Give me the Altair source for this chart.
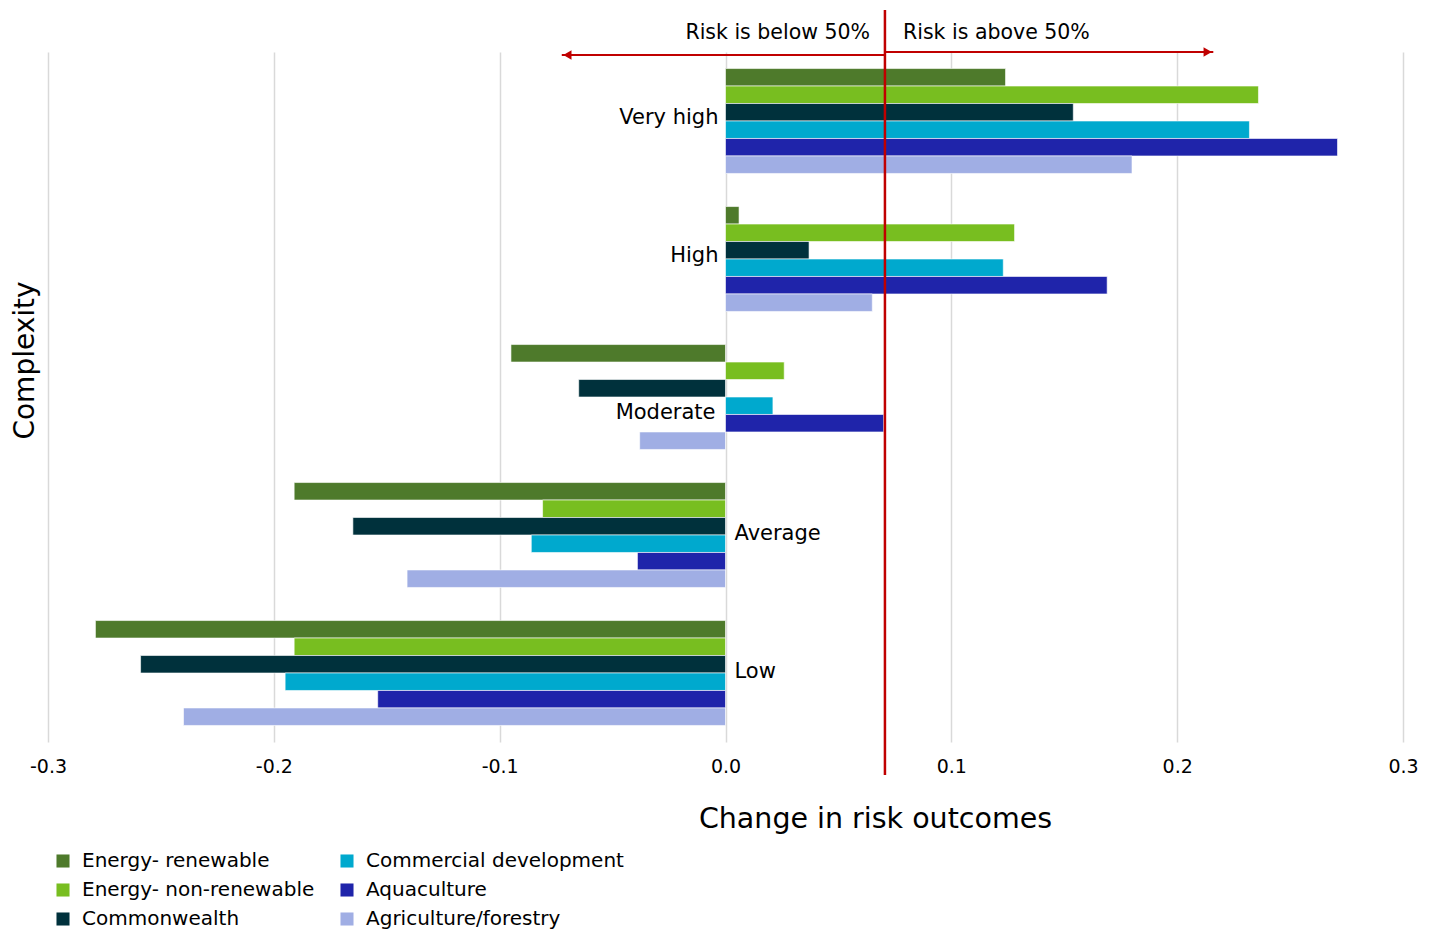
import altair as alt
import pandas as pd

categories = ["Very high", "High", "Moderate", "Average", "Low"]
series = ["Energy- renewable", "Energy- non-renewable", "Commonwealth",
          "Commercial development", "Aquaculture", "Agriculture/forestry"]
colors = ["#4e7a2b", "#78be20", "#00313c", "#00a9ce", "#1f24aa", "#a0aee4"]

very_high = [0.124, 0.236, 0.154, 0.232, 0.271, 0.180]
high = [0.006, 0.128, 0.037, 0.123, 0.169, 0.065]
moderate = [-0.095, 0.026, -0.065, 0.021, 0.070, -0.038]
average = [-0.191, -0.081, -0.165, -0.086, -0.039, -0.141]
low = [-0.279, -0.191, -0.259, -0.195, -0.154, -0.240]

ticks = [-0.3, -0.2, -0.1, 0.0, 0.1, 0.2, 0.3]
threshold = 0.0706
arrow_left_end = -0.0725
arrow_right_end = 0.216

rows = []
for cat, vals in zip(categories, [very_high, high, moderate, average, low]):
    for s, v in zip(series, vals):
        rows.append({"Complexity": cat, "Series": s, "Value": v})
df = pd.DataFrame(rows)

FONT = "DejaVu Sans"

y_scale = alt.Scale(domain=categories, paddingInner=0.24, paddingOuter=0.12)
x_scale = alt.Scale(domain=[-0.3, 0.3], nice=False)

bars = alt.Chart(df).mark_bar(stroke="white", strokeWidth=0.6).encode(
    x=alt.X("Value:Q", scale=x_scale,
            axis=alt.Axis(values=ticks, domain=False, ticks=False,
                          labelExpr="(datum.value < 0 ? '-' : '') + format(abs(datum.value), '.1f')",
                          labelFlush=False, labelOverlap=False,
                          grid=True, gridColor="#d9d9d9", gridWidth=1.5,
                          labelFontSize=19, labelPadding=15, labelColor="black",
                          title="Change in risk outcomes", titleFontSize=28.5,
                          titleFontWeight="normal", titleColor="black",
                          titleX=827, titleY=76, titleBaseline="middle")),
    y=alt.Y("Complexity:N", scale=y_scale,
            axis=alt.Axis(labels=False, ticks=False, domain=False, grid=False,
                          title="Complexity", titleFontSize=28,
                          titleFontWeight="normal", titleColor="black",
                          titleX=-23, titleY=308, titleAngle=270,
                          titleAlign="center", titleBaseline="middle")),
    yOffset=alt.YOffset("Series:N", sort=series),
    color=alt.Color("Series:N",
                    scale=alt.Scale(domain=series, range=colors),
                    legend=alt.Legend(title=None, orient="none", legendX=5,
                                      legendY=799, columns=2, direction="vertical",
                                      symbolType="square", symbolSize=170,
                                      symbolStrokeWidth=0, labelFontSize=20,
                                      labelLimit=500,
                                      labelColor="black", rowPadding=9,
                                      columnPadding=22, labelOffset=9)),
)

labels_df = pd.DataFrame({
    "Complexity": categories,
    "side": ["left", "left", "left_low", "right", "right"],
})

lab_right = alt.Chart(labels_df).transform_filter(
    alt.datum.side == "left").mark_text(
    align="right", baseline="middle", dx=-7, dy=-3, fontSize=21, font=FONT,
    color="black").encode(
    x=alt.datum(0.0), y=alt.Y("Complexity:N", scale=y_scale), text="Complexity:N")

lab_mod = alt.Chart(labels_df).transform_filter(
    alt.datum.side == "left_low").mark_text(
    align="right", baseline="middle", dx=-10, dy=16, fontSize=21, font=FONT,
    color="black").encode(
    x=alt.datum(0.0), y=alt.Y("Complexity:N", scale=y_scale), text="Complexity:N")

lab_left = alt.Chart(labels_df).transform_filter(
    alt.datum.side == "right").mark_text(
    align="left", baseline="middle", dx=9, dy=-1, fontSize=21, font=FONT,
    color="black").encode(
    x=alt.datum(0.0), y=alt.Y("Complexity:N", scale=y_scale), text="Complexity:N")

RED = "#c00000"
vline = alt.Chart(pd.DataFrame({"v": [threshold]})).mark_rule(
    color=RED, strokeWidth=2.5).encode(
    x=alt.X("v:Q", scale=x_scale), y=alt.value(-42), y2=alt.value(723))

arrows_df = pd.DataFrame({
    "start": [threshold, threshold],
    "end": [arrow_left_end, arrow_right_end],
    "ypix": [3, 0],
    "shape": ["triangle-left", "triangle-right"],
    "head": [arrow_left_end + 0.0025, arrow_right_end - 0.0025],
})
arrow_lines = alt.Chart(arrows_df).mark_rule(color=RED, strokeWidth=2).encode(
    x=alt.X("start:Q", scale=x_scale), x2="end:Q",
    y=alt.Y("ypix:Q", scale=None))
arrow_heads = alt.Chart(arrows_df).mark_point(
    color=RED, filled=True, opacity=1, size=90).encode(
    x=alt.X("head:Q", scale=x_scale), y=alt.Y("ypix:Q", scale=None),
    shape=alt.Shape("shape:N", scale=None))

risk_df = pd.DataFrame({
    "x": [0.064, 0.0786],
    "t": ["Risk is below 50%", "Risk is above 50%"],
    "al": ["r", "l"],
})
risk_r = alt.Chart(risk_df).transform_filter(alt.datum.al == "r").mark_text(
    align="right", baseline="middle", fontSize=20.5, font=FONT, color="black").encode(
    x=alt.X("x:Q", scale=x_scale), y=alt.value(-19), text="t:N")
risk_l = alt.Chart(risk_df).transform_filter(alt.datum.al == "l").mark_text(
    align="left", baseline="middle", fontSize=20.5, font=FONT, color="black").encode(
    x=alt.X("x:Q", scale=x_scale), y=alt.value(-19), text="t:N")

chart = alt.layer(
    bars, lab_right, lab_mod, lab_left, vline, arrow_lines, arrow_heads,
    risk_r, risk_l
).properties(
    width=1355, height=690,
    autosize=alt.AutoSizeParams(type="none"),
    padding={"left": 48, "top": 52, "right": 31, "bottom": 188},
).configure(
    font=FONT,
).configure_view(
    stroke=None,
).configure_legend(
    labelFont=FONT,
).configure_axis(
    labelFont=FONT, titleFont=FONT,
)

chart.save("out.html", embed_options={"renderer": "svg", "actions": False})
